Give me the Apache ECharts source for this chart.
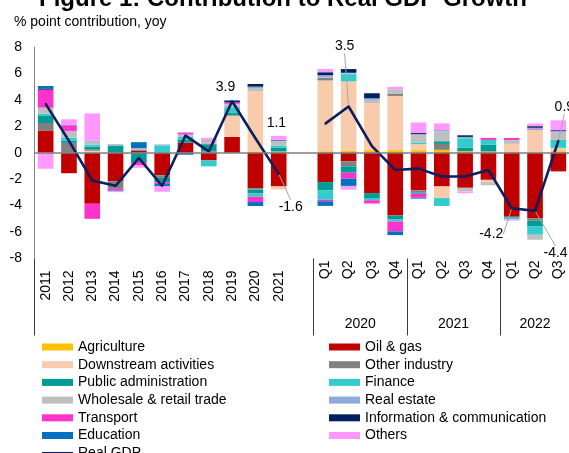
<!DOCTYPE html>
<html>
<head>
<meta charset="utf-8">
<script src="https://cdn.jsdelivr.net/npm/echarts/dist/echarts.min.js"></script>
<style>
html,body{margin:0;padding:0;background:#fff;}
#chart{width:569px;height:453px;}
</style>
</head>
<body>
<div id="chart"></div>
<script>
// ---------------- DATA ----------------
const categories = ['2011','2012','2013','2014','2015','2016','2017','2018','2019','2020','2021','',
  'Q1','Q2','Q3','Q4','Q1','Q2','Q3','Q4','Q1','Q2','Q3'];
const categoryGroups = ['','','','','','','','','','','','',
  '2020','2020','2020','2020','2021','2021','2021','2021','2022','2022','2022'];

const seriesNames = ['Agriculture','Oil & gas','Downstream activities','Other industry',
  'Public administration','Finance','Wholesale & retail trade','Real estate',
  'Transport','Information & communication','Education','Others'];

const agriculture   = [0,0,0,0,0,0,0,0,0,0.1,0.1,null,0.12,0.15,0.2,0.2,0.2,0.22,0.12,0.1,0.05,0,0.12];
const oilGas        = [1.69,-1.55,-3.86,-2.15,0.15,-1.7,0.76,-0.58,1.2,-2.7,-2.55,null,-2.22,-0.65,-3.05,-4.75,-2.85,-2.55,-2.65,-2.05,-4.85,-4.95,-1.41];
const downstream    = [0,0,0.15,0,0,0,0,0,1.6,4.55,-0.23,null,5.35,5.25,3.55,4.1,0.45,-0.88,0,-0.18,0.62,1.72,0.25];
const otherIndustry = [0.56,0.75,0.12,-0.58,0.1,-0.2,0,0.1,0.05,-0.08,0,null,0.2,-0.38,0,0.18,-0.15,0.45,0,0,0,-0.2,0];
const publicAdmin   = [0.58,0.15,0.18,0.55,-0.7,-0.35,0.25,0.55,0.15,-0.3,0.3,null,-0.63,-0.48,-0.42,-0.3,-0.1,0.2,0.28,0.52,0,-0.4,0];
const finance       = [0.13,0.25,0.15,0,0,0.55,0.18,-0.45,0.45,-0.25,0.15,null,-0.7,0.55,-0.12,-0.15,0.13,-0.6,0.7,0.35,-0.18,-0.65,0.6];
const wholesale     = [0.45,0.45,0.23,0.05,0.05,0,0.15,0.25,0.2,0.25,0.3,null,0.05,0.05,0.25,0.33,0.58,0.75,-0.28,-0.23,0.3,-0.38,0.58];
const realEstate    = [0,0.05,0.08,0.05,0.05,0.08,0.05,0.05,0.05,0.1,0.08,null,0.15,0.05,0.12,0,0.05,0.1,0.1,0,0,0.12,0.05];
const transport     = [1.36,0.4,-1.14,-0.1,-0.25,-0.12,0.1,0.05,0.12,-0.4,0,null,-0.12,-0.45,-0.22,-0.75,-0.3,0,0,0.15,0.15,0.05,0.05];
const infoComm      = [0.1,0.03,0,0,0,0,0,0,0.1,0.2,0.05,null,0.22,0.28,0.38,0,0.08,0,0.12,0,0,0.12,0];
const education     = [0.18,0,0,-0.05,0.45,-0.15,-0.15,0,0.05,-0.3,0,null,-0.35,-0.55,0,-0.28,-0.07,0,0,0,0,0,0.08];
const others        = [-1.21,0.45,2.07,-0.1,-0.18,-0.43,0.08,0.12,0,0,0.3,null,0.25,-0.28,-0.08,0.18,0.8,0.5,-0.12,0,-0.1,0.2,0.72];

const realGdp = [3.7,0.9,-2.1,-2.5,-0.4,-2.5,1.3,0.1,3.9,1.1,-1.6,null,2.2,3.5,0.5,-1.3,-1.2,-1.8,-1.8,-1.3,-4.2,-4.4,0.9];
const labelledGdpPoints = [8,9,10,13,20,21,22];

const yTicks = {min:-8, max:8, step:2};

// ---------------- STYLE ----------------
const FONT = 'Liberation Sans, Arial, sans-serif';
const colors = ['#FFC000','#C00000','#F8CBAD','#808080','#009B95','#33CCCC',
  '#BFBFBF','#8FAADC','#FF33CC','#002060','#0070C0','#FF99FF'];
const gdpColor = '#0B1F5E';
const labelOffsets = {8:[-6.6,-14], 9:[21,-15], 10:[12,33], 13:[-4,-60], 20:[-20.5,26], 21:[20.5,42], 22:[6,-34]};
const leaderLines = [10,13,20,21,22];

const sectorData = [agriculture, oilGas, downstream, otherIndustry, publicAdmin, finance,
  wholesale, realEstate, transport, infoComm, education, others];

// group separators / centers derived from categoryGroups
const groupNames = [];
const groupFirst = {}, groupLast = {};
categoryGroups.forEach((g, i) => {
  if (!g) return;
  if (!(g in groupFirst)) { groupFirst[g] = i; groupNames.push(g); }
  groupLast[g] = i;
});
const separatorIdx = [0].concat(groupNames.map(g => groupFirst[g]));
const groupCenter = {};
groupNames.forEach(g => { groupCenter[((groupFirst[g] + groupLast[g]) / 2).toFixed(1)] = g; });

const chart = echarts.init(document.getElementById('chart'), null, {renderer: 'canvas'});

const barSeries = seriesNames.map((name, k) => ({
  name: name,
  type: 'bar',
  stack: 'total',
  barWidth: '67%',
  xAxisIndex: 0, yAxisIndex: 0,
  itemStyle: {color: colors[k]},
  emphasis: {disabled: true},
  data: sectorData[k]
}));

const gdpData = realGdp.map((v, i) => {
  if (labelledGdpPoints.indexOf(i) >= 0) {
    return {value: v, label: {show: true}, labelLine: {show: leaderLines.indexOf(i) >= 0}};
  }
  return v;
});

const legendText = {fontSize: 14, color: '#000', fontFamily: FONT, lineHeight: 16};

const option = {
  animation: false,
  backgroundColor: '#fff',
  textStyle: {fontFamily: FONT},
  grid: {left: 34, top: 47, width: 536, height: 211.5, containLabel: false, outerBoundsMode: 'none'},
  xAxis: [
    { // year labels + separators
      type: 'category', data: categories, position: 'bottom', gridIndex: 0,
      axisLine: {show: false, onZero: false},
      axisTick: {show: true, interval: (i) => separatorIdx.indexOf(i) >= 0, length: 77,
        lineStyle: {color: '#3a3a3a', width: 1}},
      axisLabel: {interval: 0, rotate: 90, margin: 12, fontSize: 14, color: '#000', fontFamily: FONT,
        formatter: (v, i) => categoryGroups[i] ? '' : v},
      splitLine: {show: false}
    },
    { // quarter labels
      type: 'category', data: categories, position: 'bottom', gridIndex: 0,
      axisLine: {show: false, onZero: false}, axisTick: {show: false},
      axisLabel: {interval: 0, rotate: 90, margin: 2, fontSize: 14, color: '#000', fontFamily: FONT,
        formatter: (v, i) => categoryGroups[i] ? v : ''},
      splitLine: {show: false}
    },
    { // group labels
      type: 'value', position: 'bottom', gridIndex: 0, min: -0.5, max: categories.length - 0.5, interval: 0.5,
      axisLine: {show: false, onZero: false}, axisTick: {show: false}, splitLine: {show: false},
      axisLabel: {margin: 59, fontSize: 14, color: '#000', fontFamily: FONT,
        showMinLabel: true, showMaxLabel: true,
        formatter: (v) => groupCenter[Number(v).toFixed(1)] || ''}
    }
  ],
  yAxis: {
    type: 'value', min: yTicks.min, max: yTicks.max, interval: yTicks.step,
    axisLine: {show: true, onZero: false, lineStyle: {color: '#858585', width: 1}},
    axisTick: {show: false}, splitLine: {show: false},
    axisLabel: {margin: 12, fontSize: 14, color: '#000', fontFamily: FONT}
  },
  legend: [
    {
      orient: 'vertical', left: 42, top: 339, height: 160, padding: 0, itemWidth: 31, itemHeight: 7, itemGap: 1.7,
      icon: 'rect', selectedMode: false, textStyle: legendText,
      data: seriesNames.filter((n, i) => i % 2 === 0).concat([{name: 'Real GDP', icon: 'path://M0,0H100V8H0Z'}])
    },
    {
      orient: 'vertical', left: 329, top: 339, height: 160, padding: 0, itemWidth: 31, itemHeight: 7, itemGap: 1.7,
      icon: 'rect', selectedMode: false, textStyle: legendText,
      data: seriesNames.filter((n, i) => i % 2 === 1)
    }
  ],
  graphic: [
    {type: 'text', x: 283, y: -1, silent: true,
      style: {text: 'Figure 1: Contribution to Real GDP Growth', font: 'bold 24px ' + FONT, fill: '#000',
        align: 'center', verticalAlign: 'middle', textAlign: 'center', textVerticalAlign: 'middle'}},
    {type: 'text', x: 14, y: 22, silent: true,
      style: {text: '% point contribution, yoy', font: '14px ' + FONT, fill: '#000',
        align: 'left', verticalAlign: 'middle', textAlign: 'left', textVerticalAlign: 'middle'}}
  ],
  series: barSeries.concat([
    {
      name: 'zero', type: 'line', z: 3, data: categories.map(() => null), silent: true,
      symbol: 'none', lineStyle: {width: 0},
      markLine: {silent: true, symbol: ['none','none'], label: {show: false},
        lineStyle: {color: '#7f7f7f', width: 1.5, type: 'solid'},
        emphasis: {disabled: true}, data: [{yAxis: 0}]}
    },
    {
      name: 'Real GDP', type: 'line', z: 4, data: gdpData, connectNulls: false,
      symbol: 'circle', symbolSize: 2, showSymbol: true,
      itemStyle: {color: gdpColor},
      lineStyle: {color: gdpColor, width: 2.6},
      emphasis: {disabled: true},
      label: {show: false, position: 'inside', fontSize: 14, color: '#000', fontFamily: FONT},
      labelLine: {show: false, lineStyle: {color: '#A6A6A6', width: 1}},
      labelLayout: function (p) {
        const o = labelOffsets[p.dataIndex];
        return o ? {dx: o[0], dy: o[1]} : {};
      }
    }
  ])
};
chart.setOption(option);
</script>
</body>
</html>
